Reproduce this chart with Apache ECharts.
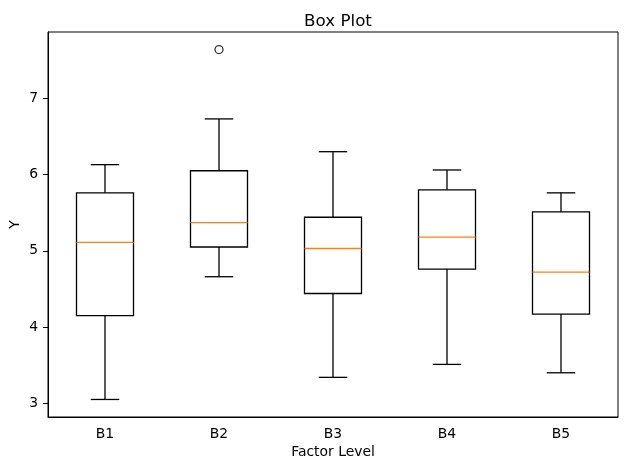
<!DOCTYPE html>
<html>
<head>
<meta charset="utf-8">
<script src="https://cdn.jsdelivr.net/npm/echarts@6/dist/echarts.min.js"></script>
<style>
  html, body { margin: 0; padding: 0; background: #fff; }
  #boxChart { width: 630px; height: 470px; }
</style>
</head>
<body>
<div id="boxChart"></div>
<script>
// values
var categories = ["B1", "B2", "B3", "B4", "B5"];
var whiskerLow = [3.05, 4.66, 3.34, 3.51, 3.40];
var q1 = [4.15, 5.05, 4.44, 4.76, 4.17];
var median = [5.11, 5.37, 5.03, 5.18, 4.72];
var q3 = [5.76, 6.05, 5.44, 5.80, 5.51];
var whiskerHigh = [6.13, 6.73, 6.30, 6.06, 5.76];
var outliers = [["B2", 7.64]];

var boxData = categories.map(function (c, i) {
  return [i, whiskerLow[i], q1[i], median[i], q3[i], whiskerHigh[i]];
});

var font = "DejaVu Sans";
var lw = 1.3;

function renderBox(params, api) {
  var x = api.value(0);
  var band = api.size([1, 0])[0];
  var halfBox = band * 0.25;
  var halfCap = band * 0.125;
  var pLow = api.coord([x, api.value(1)]);
  var pQ1 = api.coord([x, api.value(2)]);
  var pMed = api.coord([x, api.value(3)]);
  var pQ3 = api.coord([x, api.value(4)]);
  var pHigh = api.coord([x, api.value(5)]);
  var cx = pQ1[0];
  var black = { stroke: "#000", lineWidth: lw, fill: null };
  return {
    type: "group",
    children: [
      { type: "line", shape: { x1: cx, y1: pQ1[1], x2: cx, y2: pLow[1] }, style: black },
      { type: "line", shape: { x1: cx, y1: pQ3[1], x2: cx, y2: pHigh[1] }, style: black },
      { type: "line", shape: { x1: cx - halfCap, y1: pLow[1], x2: cx + halfCap, y2: pLow[1] }, style: black },
      { type: "line", shape: { x1: cx - halfCap, y1: pHigh[1], x2: cx + halfCap, y2: pHigh[1] }, style: black },
      { type: "rect", shape: { x: cx - halfBox, y: pQ3[1], width: halfBox * 2, height: pQ1[1] - pQ3[1] }, style: black },
      { type: "line", shape: { x1: cx - halfBox, y1: pMed[1], x2: cx + halfBox, y2: pMed[1] }, style: { stroke: "#ff7f0e", lineWidth: lw } }
    ]
  };
}

var myChart = echarts.init(document.getElementById("boxChart"));
var option = {
  animation: false,
  backgroundColor: "#fff",
  title: {
    text: "Box Plot",
    left: 333,
    top: 8,
    textAlign: "center",
    textStyle: { fontFamily: font, fontSize: 16.7, fontWeight: "normal", color: "#000" }
  },
  grid: {
    left: 48,
    right: 12,
    top: 32,
    bottom: 53,
    containLabel: false,
    outerBoundsMode: "none",
    show: true,
    borderColor: "#000",
    borderWidth: 1,
    backgroundColor: "transparent"
  },
  xAxis: {
    type: "category",
    data: categories,
    boundaryGap: true,
    name: "Factor Level",
    nameLocation: "middle",
    nameGap: 28,
    nameMoveOverlap: false,
    nameTextStyle: { fontFamily: font, fontSize: 13.9, color: "#000" },
    axisLine: { lineStyle: { color: "#000", width: 1 } },
    axisTick: { alignWithLabel: true, length: 5, lineStyle: { color: "#000" } },
    axisLabel: { margin: 10, fontFamily: font, fontSize: 13.9, color: "#000" },
    splitLine: { show: false }
  },
  yAxis: {
    type: "value",
    min: 2.82,
    max: 7.87,
    splitNumber: 5,
    name: "Y",
    nameLocation: "middle",
    nameGap: 26,
    nameMoveOverlap: false,
    nameTextStyle: { fontFamily: font, fontSize: 13.9, color: "#000" },
    axisLine: { show: true, lineStyle: { color: "#000", width: 1 } },
    axisTick: { show: true, length: 5, lineStyle: { color: "#000" } },
    axisLabel: {
      margin: 10,
      fontFamily: font,
      fontSize: 13.9,
      color: "#000",
      showMinLabel: false,
      showMaxLabel: false,
      formatter: function (v) {
        return Math.abs(v - Math.round(v)) < 1e-6 ? String(Math.round(v)) : "";
      }
    },
    splitLine: { show: false }
  },
  series: [
    {
      type: "custom",
      renderItem: renderBox,
      data: boxData,
      encode: { x: 0, y: [1, 2, 3, 4, 5] },
      z: 3
    },
    {
      type: "scatter",
      data: outliers,
      symbol: "circle",
      symbolSize: 8,
      itemStyle: { color: "#fff", borderColor: "#000", borderWidth: 1.3 },
      z: 4
    }
  ]
};
myChart.setOption(option, true);
</script>
</body>
</html>
